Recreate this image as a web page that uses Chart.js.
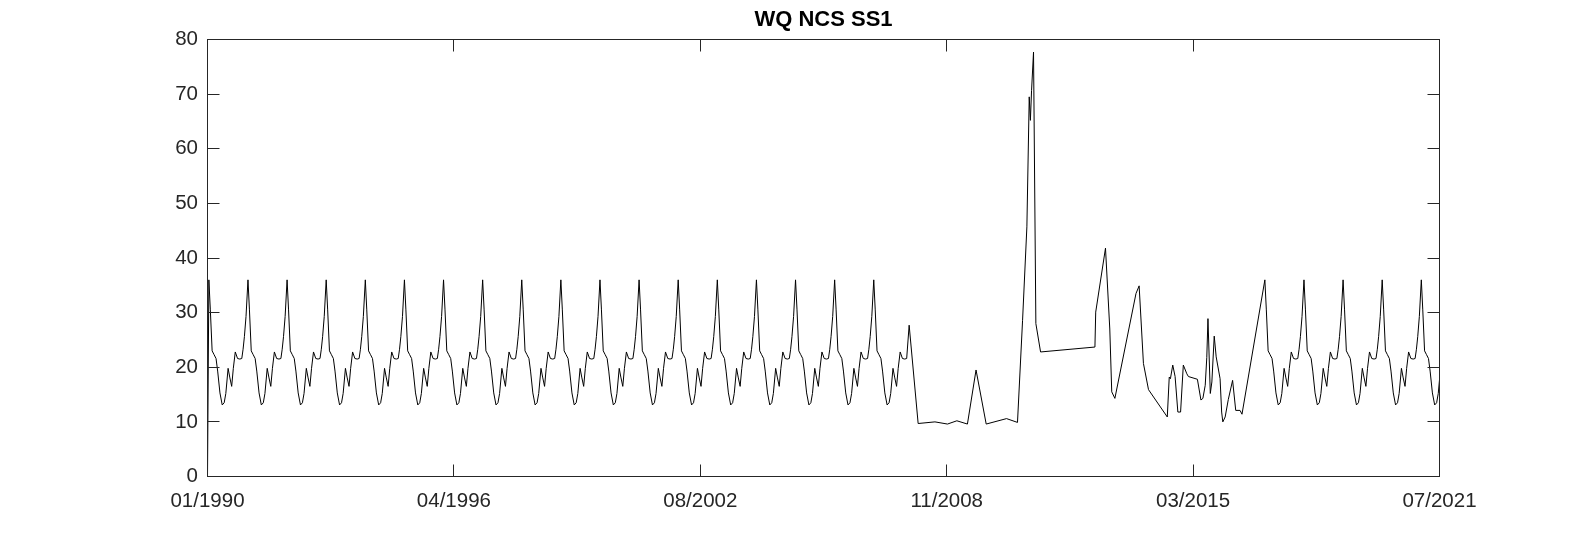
<!DOCTYPE html>
<html lang="en">
<head>
  <meta charset="UTF-8">
  <title>WQ NCS SS1</title>
  <script src="https://cdn.jsdelivr.net/npm/chart.js"></script>
  <style>
    html, body { margin:0; padding:0; background:#fff; overflow:hidden; }
    .wrap { position:relative; width:1591px; height:536px; }
  </style>
</head>
<body>
  <div class="wrap"><canvas id="wqChart" width="1591" height="536"></canvas></div>
<script>
// seasonal cycle: months after the January peak -> value
const cycleMonths = [0, 0.45, 1.0, 1.6, 2.2, 2.7, 3.4, 4.1, 4.7, 5.2, 5.9, 6.4, 7.0, 7.5, 8.1, 8.8, 9.5, 10.1, 10.5, 10.9, 11.4];
const cycleValues = [36, 30.5, 23.0, 22.3, 21.6, 19.3, 15.3, 13.1, 13.5, 15.2, 19.8, 18.2, 16.5, 19.8, 22.8, 21.6, 21.5, 21.6, 23.3, 25.6, 29.3];

// years where that cycle shows up whole
const cycleYears = [1990, 1991, 1992, 1993, 1994, 1995, 1996, 1997, 1998, 1999, 2000, 2001, 2002, 2003, 2004, 2005, 2006,
                    2017, 2018, 2019, 2020, 2021];
const partialYear = 2007;       // cycle stops after ~10 months
const partialLastMonth = 10.1;
const firstValue = 0;           // line starts at 0 on the left axis

// the irregular stretch late 2007 - mid 2016
const gapYears = [2007.94, 2008.17, 2008.60, 2008.92, 2009.16, 2009.43, 2009.65, 2009.91, 2010.43, 2010.71,
                  2010.84, 2010.95, 2011.01, 2011.04, 2011.07, 2011.12, 2011.18, 2011.30, 2012.69, 2012.71,
                  2012.96, 2013.07, 2013.12, 2013.20, 2013.74, 2013.82, 2013.93, 2014.06, 2014.54, 2014.59,
                  2014.62, 2014.68, 2014.74, 2014.81, 2014.88, 2014.95, 2015.04, 2015.08, 2015.31, 2015.40,
                  2015.45, 2015.51, 2015.55, 2015.58, 2015.64, 2015.68, 2015.74, 2015.79, 2015.89, 2015.93,
                  2015.96, 2016.02, 2016.10, 2016.21, 2016.29, 2016.40, 2016.45];
const gapValues = [27.7, 9.7, 10.0, 9.6, 10.2, 9.6, 19.5, 9.6, 10.6, 9.9,
                   28.6, 45.7, 69.5, 65.2, 70.7, 77.7, 28.0, 22.8, 23.7, 30.1,
                   41.8, 27.0, 15.5, 14.3, 33.5, 34.9, 20.7, 15.9, 10.9, 18.2,
                   17.9, 20.4, 18.3, 11.8, 11.8, 20.4, 18.8, 18.3, 17.8, 14.0,
                   14.3, 16.7, 21.8, 28.9, 15.2, 17.3, 25.7, 21.9, 17.9, 11.8,
                   10.0, 10.9, 14.1, 17.6, 12.1, 12.1, 11.4];

const tickLabels = ['01/1990', '04/1996', '08/2002', '11/2008', '03/2015', '07/2021'];
const xMin = 1990, xMax = 2021.5;
const yMin = 0, yMax = 80, yStep = 10;

const peakShift = 0.035;  // peaks sit about mid January
const tickStep = (xMax - xMin) / (tickLabels.length - 1);

function cyclePoints(year, lastMonth){
  const pts = [];
  cycleMonths.forEach((m,i)=>{
    if(m <= lastMonth) pts.push({x: year + peakShift + m/12, y: cycleValues[i]});
  });
  return pts;
}

let points = [{x: xMin, y: firstValue}];
cycleYears.forEach(yr=>{ points = points.concat(cyclePoints(yr, 12)); });
points = points.concat(cyclePoints(partialYear, partialLastMonth));
gapYears.forEach((yr,i)=>points.push({x: yr, y: gapValues[i]}));
points.sort((a,b)=>a.x-b.x);

const font = "'Liberation Sans', Arial, Helvetica, sans-serif";
const axisColor = '#262626';

// MATLAB-style box with inward ticks on all four sides
const boxPlugin = {
  id: 'matlabBox',
  afterDraw(chart){
    const {ctx, chartArea:a, scales:{x, y}} = chart;
    const len = 12;
    ctx.save();
    ctx.strokeStyle = axisColor;
    ctx.lineWidth = 1;
    ctx.strokeRect(a.left, a.top, a.right - a.left, a.bottom - a.top);
    ctx.beginPath();
    x.ticks.forEach(t=>{
      const px = Math.round(x.getPixelForValue(t.value) - 0.5) + 0.5;
      ctx.moveTo(px, a.bottom); ctx.lineTo(px, a.bottom - len);
      ctx.moveTo(px, a.top);    ctx.lineTo(px, a.top + len);
    });
    y.ticks.forEach(t=>{
      const py = Math.round(y.getPixelForValue(t.value) - 0.5) + 0.5;
      ctx.moveTo(a.left, py);  ctx.lineTo(a.left + len, py);
      ctx.moveTo(a.right, py); ctx.lineTo(a.right - len, py);
    });
    ctx.stroke();
    ctx.restore();
  }
};

const ctx = document.getElementById('wqChart').getContext('2d');
new Chart(ctx, {
  type: 'line',
  data: {
    datasets: [{
      data: points,
      borderColor: '#000',
      borderWidth: 1,
      pointRadius: 0,
      tension: 0,
      fill: false
    }]
  },
  options: {
    responsive: false,
    animation: false,
    events: [],
    layout: { padding: { left: 0, right: 151.5, top: 0, bottom: 0 } },
    plugins: {
      legend: { display: false },
      tooltip: { enabled: false },
      title: {
        display: true,
        text: 'WQ NCS SS1',
        fullSize: false,
        color: '#000',
        font: { family: font, size: 22, weight: 'bold' },
        padding: { top: 6.5, bottom: 6.6 }
      }
    },
    scales: {
      x: {
        type: 'linear',
        min: xMin,
        max: xMax,
        afterBuildTicks: s => { s.ticks = tickLabels.map((l,i)=>({value: xMin + i*tickStep})); },
        afterFit: s => { s.height = 59.5; },
        grid: { display: false, drawTicks: false },
        border: { display: false },
        ticks: {
          autoSkip: false,
          maxRotation: 0,
          padding: 13,
          color: axisColor,
          font: { family: font, size: 20.5 },
          callback: (v,i) => tickLabels[i]
        }
      },
      y: {
        min: yMin,
        max: yMax,
        afterFit: s => { s.width = 207.5; },
        grid: { display: false, drawTicks: false },
        border: { display: false },
        ticks: {
          stepSize: yStep,
          padding: 9.5,
          color: axisColor,
          font: { family: font, size: 20.5 }
        }
      }
    }
  },
  plugins: [boxPlugin]
});
</script>
</body>
</html>
